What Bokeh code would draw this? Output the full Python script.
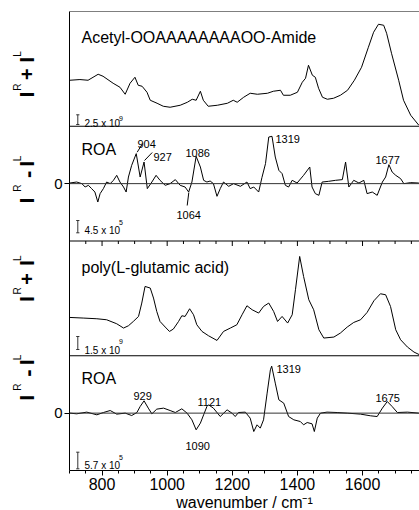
import numpy as np
from bokeh.plotting import figure
from bokeh.layouts import row
from bokeh.models import Range1d, Span, Label, FixedTicker, SingleIntervalTicker
from bokeh.embed import file_html
from bokeh.resources import INLINE

# ---------------- data ----------------
# Panel 1: Raman (I^R + I^L), Acetyl-OOAAAAAAAAOO-Amide, arbitrary units
wn_pep_raman = [701, 732, 757, 788, 803, 834, 855, 871, 886, 901, 911, 923, 938, 948, 969, 988,
                1009, 1040, 1062, 1077, 1089, 1102, 1111, 1126, 1154, 1185, 1203, 1215, 1235,
                1255, 1277, 1308, 1326, 1348, 1357, 1378, 1400, 1415, 1425, 1434, 1446, 1455,
                1465, 1477, 1492, 1511, 1532, 1554, 1575, 1597, 1618, 1634, 1649, 1665, 1674,
                1689, 1711, 1726, 1748, 1773]
pep_raman = [46, 46.7, 46, 52, 50, 43, 39, 32, 43, 49, 41, 40, 34, 26, 23, 20,
             19, 21, 24, 27, 26, 35, 26, 20, 21, 23, 26, 24, 29,
             33, 32, 33, 35, 36, 31, 31, 34, 44, 48, 61, 51, 49,
             38, 29, 27, 28, 31, 36, 46, 59, 79, 94, 102, 101, 93,
             73, 46, 26, 11, 1]

# Panel 2: ROA (I^R - I^L), peptide
wn_pep_roa = [701, 722, 738, 748, 758, 768, 778, 787, 794, 804, 814, 825, 835, 845, 855, 866,
              874, 881, 891, 905, 917, 929, 939, 953, 966, 978, 994, 1009, 1025, 1040, 1055,
              1066, 1076, 1089, 1102, 1112, 1122, 1132, 1142, 1153, 1163, 1173, 1189, 1204,
              1225, 1245, 1255, 1266, 1281, 1291, 1302, 1312, 1322, 1332, 1343, 1353, 1363,
              1373, 1384, 1399, 1419, 1438, 1445, 1455, 1466, 1476, 1496, 1517, 1538, 1548,
              1558, 1573, 1589, 1604, 1614, 1630, 1645, 1661, 1671, 1681, 1691, 1702, 1717,
              1727, 1748, 1773]
pep_roa = [0.6, 1.6, 0, -3.4, -1.7, -5, -8.4, -18.4, -10, -5, 1.6, 0, 3.3, 8.3, 1.6, -3.4,
           -8.4, 6.6, 18.3, 30, 6.6, 21.6, -5, 1.6, 8.3, 3.3, -1.7, 0, 4, -1.7, -3.4,
           -8.4, 1.6, 27.3, 16.6, 3.3, 1.6, 2.6, 0, -12.7, -5, 1.6, -2.7, 0,
           -2.7, 1.6, -5, -3.4, -8.4, 6, 20, 46.6, 47.3, 26.6, 13.3, 10, -1.7,
           -3.4, 3.3, 0.6, 8.3, 16.6, -3.4, -10, -11.7, 1.6, 2.3, 3.3, 4, 21.6,
           -3.4, 3.3, 0.6, 3.3, -10, -8.4, -11.7, 1.6, 6.6, 19, 11.6, 8.3, 5,
           0, 1, 0.6]

# Panel 3: Raman, poly(L-glutamic acid)
wn_pga_raman = [701, 742, 784, 814, 845, 866, 881, 896, 912, 922, 932, 948, 958, 968, 978, 994,
                1007, 1019, 1035, 1045, 1055, 1069, 1081, 1091, 1107, 1127, 1153, 1173, 1194,
                1214, 1230, 1245, 1261, 1281, 1296, 1312, 1327, 1339, 1353, 1370, 1384, 1394,
                1407, 1419, 1435, 1450, 1466, 1481, 1512, 1532, 1553, 1573, 1594, 1614, 1635,
                1655, 1671, 1686, 1702, 1717, 1738, 1758, 1775]
pga_raman = [38.3, 37.7, 37, 36, 32, 27.7, 30, 34.3, 39.3, 52.7, 69.3, 67.7, 57.7, 44.3, 34.3, 28.7,
             24.3, 26.7, 34.3, 40, 39.3, 47, 41, 31, 24.3, 20, 15.3, 24.3, 27.7,
             31, 41, 50, 46, 42.7, 49.3, 52.7, 44.3, 34.3, 39.3, 32.7, 41, 66,
             99.3, 79.3, 56, 46, 26, 17.7, 18.7, 22.7, 28.7, 33.3, 36, 43.3, 55,
             62, 61, 49.3, 26, 16, 8.7, 3.7, 1]

# Panel 4: ROA, poly(L-glutamic acid)
wn_pga_roa = [701, 722, 753, 784, 804, 825, 845, 871, 891, 907, 917, 929, 942, 953, 968, 989,
              1009, 1025, 1045, 1061, 1076, 1089, 1102, 1112, 1122, 1127, 1142, 1163, 1184,
              1199, 1209, 1219, 1240, 1255, 1266, 1276, 1286, 1296, 1307, 1317, 1321, 1332,
              1343, 1358, 1373, 1389, 1409, 1419, 1430, 1445, 1452, 1461, 1471, 1491, 1522,
              1553, 1594, 1625, 1645, 1661, 1676, 1691, 1707, 1738, 1773]
pga_roa = [0, -0.7, 1, -1.7, 0.6, 2.6, -1, 0, -2.4, 0.6, 6.6, 12.3, 5, -0.7, 4, 5,
           2.6, 0.6, 4.3, 0, -6.7, -16.7, -10, -1.7, 6.6, 8.3, 5, -3.4, 3.3,
           0, -3.4, 0.6, 1, -5, -18.4, -11.7, -15, -6.7, 20, 43.3, 47, 30,
           13.3, 10, -3.4, -6.7, -8.4, -11.7, -9.4, -10.7, -18.4, -5, 0, 1, 0.6,
           0, -1, -2.7, -3.4, 5, 11.6, 6.6, 0.6, 1, 0]

panel_titles = ["Acetyl-OOAAAAAAAAOO-Amide", "ROA", "poly(L-glutamic acid)", "ROA"]
scale_mantissa = ["2.5 x 10", "4.5 x 10", "1.5 x 10", "5.7 x 10"]
scale_exponent = ["9", "5", "9", "5"]
pep_peak_labels = ["904", "927", "1086", "1064", "1319", "1677"]
pga_peak_labels = ["929", "1090", "1121", "1319", "1675"]
x_major_ticks = [800, 1000, 1200, 1400, 1600]
x_minor_ticks = [750, 850, 900, 950, 1050, 1100, 1150, 1250, 1300, 1350, 1450, 1500, 1550,
                 1650, 1700, 1750]
x_title = "wavenumber / cm\u207b\u00b9"

# ---------------- layout ----------------
LW = 40                    # width of the strip holding the rotated y labels
H = 510
BL, BT, BB = 29, 11, 40
X0, X1 = 700, 1775
FRAME_W = 350
FRAME_H = 459
S = 4.0 / FRAME_H          # data units per pixel (vertical)
FONT = "Liberation Sans"
FRAME_LEFT_PAGE = LW + BL
FRAME_BOTTOM_PAGE = BT + FRAME_H


def dx(px):
    return X0 + (px - FRAME_LEFT_PAGE) * (X1 - X0) / FRAME_W


def dy(py):
    return (FRAME_BOTTOM_PAGE - py) * S


p = figure(frame_width=FRAME_W, frame_height=FRAME_H, x_range=Range1d(X0, X1), y_range=Range1d(0, 4),
           output_backend="svg", toolbar_location=None,
           min_border_left=BL, min_border_right=0, min_border_top=BT, min_border_bottom=BB)
p.grid.visible = False
p.outline_line_color = None
p.background_fill_color = "white"
p.border_fill_color = "white"

# x axis
xa = p.xaxis[0]
xa.ticker = SingleIntervalTicker(interval=200, num_minor_ticks=4)
xa.major_tick_out = 5
xa.major_tick_in = 0
xa.minor_tick_out = 3
xa.minor_tick_in = 0
xa.major_label_standoff = 2
xa.major_label_text_font = FONT
xa.major_label_text_font_size = "16px"
xa.major_label_text_color = "black"
xa.axis_line_color = "black"
xa.major_tick_line_color = "black"
xa.minor_tick_line_color = "black"
xa.axis_label = x_title
xa.axis_label_text_font = FONT
xa.axis_label_text_font_size = "16px"
xa.axis_label_text_font_style = "normal"
xa.axis_label_text_color = "black"
xa.axis_label_standoff = 1

# y axis : only zero ticks of ROA panels
Z2, Z4 = 2.5, 0.5
ya = p.yaxis[0]
ya.ticker = FixedTicker(ticks=[Z4, Z2], minor_ticks=[])
ya.major_label_overrides = {Z4: "0", Z2: "0"}
ya.major_tick_out = 5
ya.major_tick_in = 0
ya.major_label_standoff = 2
ya.major_label_text_font = FONT
ya.major_label_text_font_size = "15px"
ya.major_label_text_color = "black"
ya.axis_line_color = "black"
ya.major_tick_line_color = "black"

# panel separators and top border
for loc in [1, 2, 3, 4]:
    p.add_layout(Span(location=loc, dimension="width", line_color="black", line_width=1))
# zero lines
for loc in [Z2, Z4]:
    p.add_layout(Span(location=loc, dimension="width", line_color="#333333", line_width=1))

# ticks on the boundary between the two sample groups (pointing down into panel 3)
p.segment(x0=x_major_ticks, y0=[2] * len(x_major_ticks), x1=x_major_ticks,
          y1=[2 - 5 * S] * len(x_major_ticks), line_color="black", line_width=1)
p.segment(x0=x_minor_ticks, y0=[2] * len(x_minor_ticks), x1=x_minor_ticks,
          y1=[2 - 3 * S] * len(x_minor_ticks), line_color="black", line_width=1)

# traces
p.line(wn_pep_raman, [3 + v * S for v in pep_raman], line_color="black", line_width=1)
p.line(wn_pep_roa, [Z2 + v * S for v in pep_roa], line_color="black", line_width=1)
p.line(wn_pga_raman, [1 + v * S for v in pga_raman], line_color="black", line_width=1)
p.line(wn_pga_roa, [Z4 + v * S for v in pga_roa], line_color="black", line_width=1)


def txt(fig, text, x, y, size, bold=False, angle=0.0, align="left", baseline="alphabetic"):
    fig.add_layout(Label(x=x, y=y, text=text, text_font=FONT,
                         text_font_size=f"{size}px", text_font_style="bold" if bold else "normal",
                         text_color="black", angle=angle, text_align=align, text_baseline=baseline))


def mtxt(text, px, py, size, **kw):
    txt(p, text, dx(px), dy(py), size, **kw)


# panel titles
for t, yb in zip(panel_titles, [36.7, 149, 266.7, 378]):
    mtxt(t, 81, yb, 16)

# scale bars
bars = [(114.3, 124), (220, 232.3), (336, 349), (451.7, 468.3)]
bx = 77.3
for (t0, t1) in bars:
    p.segment(x0=[dx(bx), dx(bx - 1.6), dx(bx - 1.6)], y0=[dy(t0), dy(t0), dy(t1)],
              x1=[dx(bx), dx(bx + 1.6), dx(bx + 1.6)], y1=[dy(t1), dy(t0), dy(t1)],
              line_color="#333333", line_width=1)
for m, e, yb, ye in zip(scale_mantissa, scale_exponent, [123.3, 230, 350, 465],
                        [118, 221.7, 341, 457]):
    mtxt(m, 84, yb, 10)
    mtxt(e, 118.5, ye, 7)

# peak labels, peptide ROA
for t, (px, yb) in zip(pep_peak_labels, [(137, 143.3), (153, 156.5), (185, 152), (176, 214),
                                          (275, 138), (375, 159)]):
    mtxt(t, px, yb, 11)
lead = [((136.7, 151.7), (141.7, 143.6)), ((144, 160), (151.7, 152)), ((188.3, 192), (186.7, 205))]
p.segment(x0=[dx(a[0]) for a, b in lead], y0=[dy(a[1]) for a, b in lead],
          x1=[dx(b[0]) for a, b in lead], y1=[dy(b[1]) for a, b in lead],
          line_color="black", line_width=1)

# peak labels, PGA ROA
for t, (px, yb) in zip(pga_peak_labels, [(133, 395.5), (185, 445), (197, 401), (276, 368),
                                          (375, 397)]):
    mtxt(t, px, yb, 11)

# ---------------- left strip with rotated I^R +/- I^L labels ----------------
lf = figure(width=LW, height=H, x_range=Range1d(0, LW), y_range=Range1d(0, H),
            x_axis_type=None, y_axis_type=None, output_backend="svg", toolbar_location=None,
            min_border=0, min_border_left=0, min_border_right=0, min_border_top=0,
            min_border_bottom=0)
lf.grid.visible = False
lf.outline_line_color = None
lf.background_fill_color = "white"
lf.border_fill_color = "white"


def ltxt(text, px, py, size, **kw):
    txt(lf, text, px, H - py, size, **kw)


A = np.pi / 2
left = [
    (92.8, 84.5, "+", 70, 54, 47.5),
    (211.5, 197.5, "-", 182, 170.5, 164.5),
    (321.5, 312.5, "+", 299, 281.5, 276),
    (432, 420, "-", 404.5, 392.5, 387),
]
for (yi, yr, sign, ys, yi2, yl) in left:
    ltxt("I", 25.8, yi, 21, bold=True, angle=A, align="center", baseline="middle")
    ltxt("R", 17.3, yr, 10, angle=A, align="center", baseline="middle")
    if sign == "+":
        ltxt("+", 26, ys, 20, bold=True, angle=A, align="center", baseline="middle")
    else:
        ltxt("-", 27, ys, 22, bold=True, angle=A, align="center", baseline="middle")
    ltxt("I", 25.8, yi2, 21, bold=True, angle=A, align="center", baseline="middle")
    ltxt("L", 17.3, yl, 10, angle=A, align="center", baseline="middle")

layout = row(lf, p)
open("out.html", "w").write(file_html(layout, INLINE))
